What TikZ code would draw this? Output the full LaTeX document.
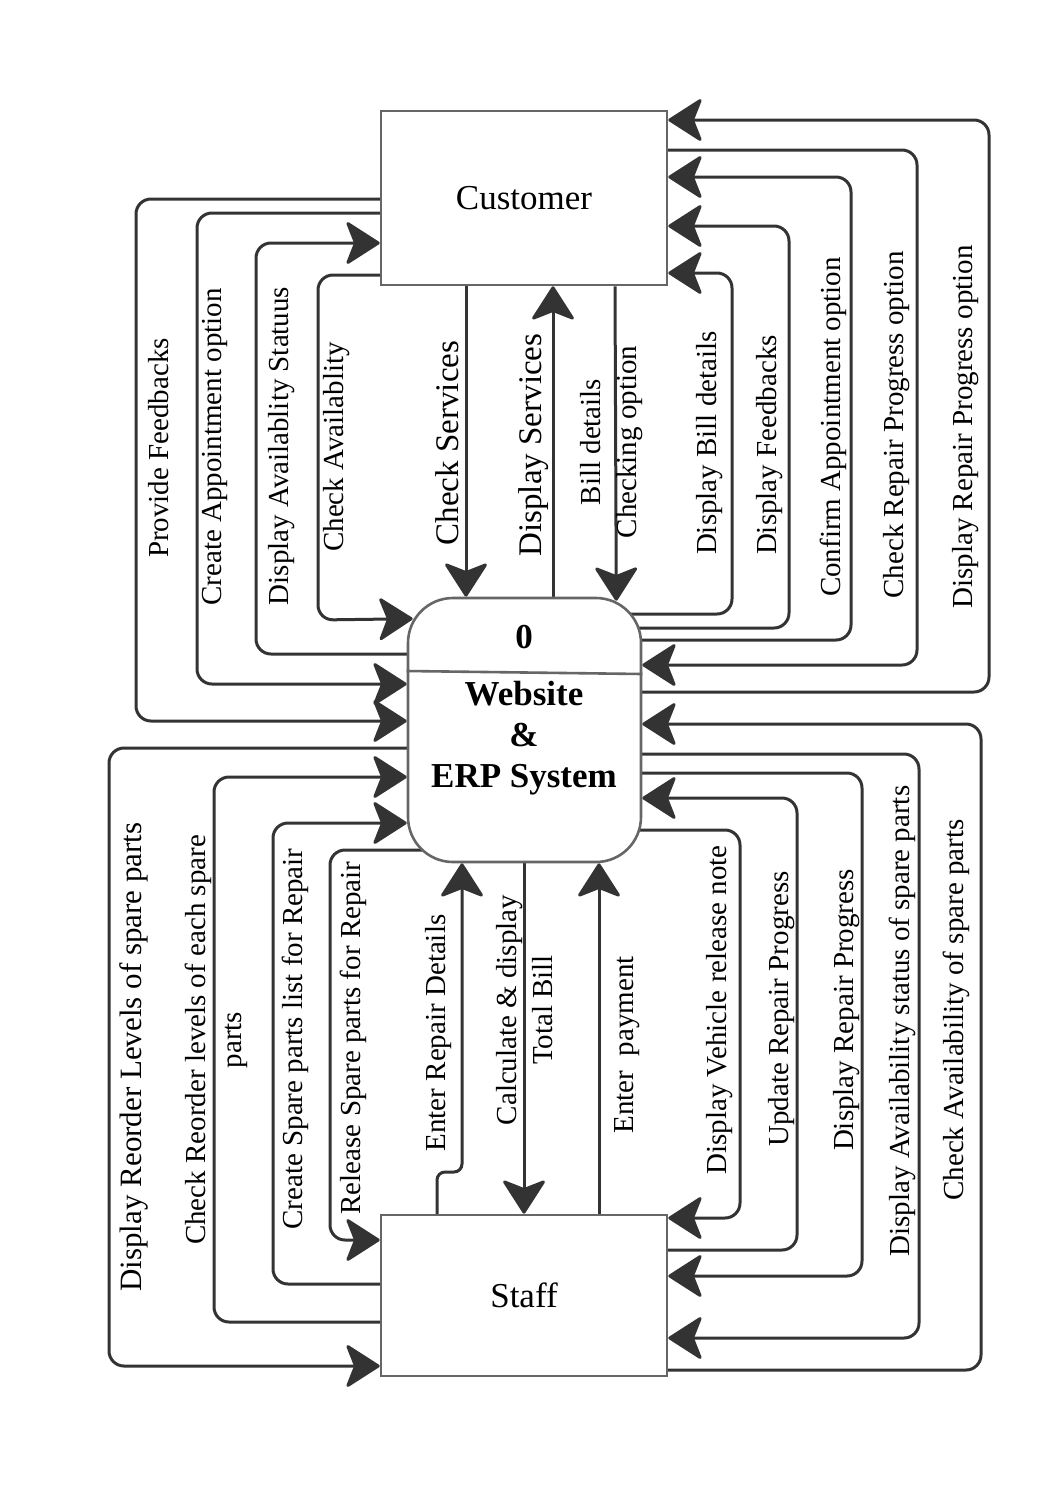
\documentclass[tikz,border=0pt]{standalone}
\usepackage{fontspec}
\setmainfont{Liberation Serif}
\usetikzlibrary{arrows.meta,calc,backgrounds}
\definecolor{boxgray}{HTML}{666666}
\definecolor{linegray}{HTML}{333333}
\begin{document}
\begin{tikzpicture}[x=1pt,y=-1pt,
  box/.style={draw=boxgray,line width=2.6pt,fill=white,inner sep=0pt,
    font=\fontsize{35}{41}\selectfont},
  conn/.style={draw=linegray,line width=3pt,rounded corners=15pt,
    -{Stealth[length=36pt,width=46pt,inset=9pt,round]}},
  lbl/.style={rotate=90,inner sep=0pt,align=center,
    font=\fontsize{29}{36}\selectfont},
  biglbl/.style={rotate=90,inner sep=0pt,align=center,
    font=\fontsize{33}{38}\selectfont},
  ptext/.style={inner sep=0pt,align=center,
    font=\bfseries\fontsize{35}{41}\selectfont}
]
\useasboundingbox (0,0) rectangle (1051,1486);

% entities
\node[box,minimum width=286pt,minimum height=174pt] (cust) at (524,198) {Customer};
\node[box,minimum width=286pt,minimum height=161pt] (staff) at (524,1295.5) {Staff};
\node[box,rounded corners=45pt,minimum width=233pt,minimum height=264pt] (proc) at (524.5,730) {};
\draw[draw=boxgray,line width=2.6pt] (proc.west |- 0,671) -- (proc.east |- 0,674);
\node[ptext] (pnum) at (524,637) {0};
\node[ptext] (pname) at (524,738) {Website\\\&\\ERP System};

\begin{scope}[on background layer]
\fill[white] (0,0) rectangle (1051,1486);
% top left
\draw[conn] (cust.center |- 0,199) -- (136,199) -- (136,721) -- (proc.west |- 0,721);
\draw[conn] (cust.center |- 0,213) -- (197,213) -- (197,684) -- (proc.west |- 0,684);
\draw[conn] (proc.center |- 0,654) -- (256,654) -- (256,243) -- (cust.west |- 0,243);
\draw[conn] (cust.center |- 0,275) -- (318,275) -- (318,620) -- ($(proc.north west)+(6,22)$);
% middle top
\draw[conn] (cust.south -| 466,0) -- (proc.north -| 466,0);
\draw[conn] (proc.center -| 553,0) -- (cust.south -| 553,0);
\draw[conn] (cust.south -| 615,0) -- ($(proc.north east)+(-26,4)$);
% top right
\draw[conn] (proc.center |- 0,614) -- (732,614) -- (732,273) -- (cust.east |- 0,273);
\draw[conn] (proc.center |- 0,628) -- (789,628) -- (789,226) -- (cust.east |- 0,226);
\draw[conn] (proc.center |- 0,640) -- (851,640) -- (851,177) -- (cust.east |- 0,177);
\draw[conn] (cust.center |- 0,150) -- (917,150) -- (917,665) -- (proc.east |- 0,665);
\draw[conn] (proc.center |- 0,692) -- (989,692) -- (989,120) -- (cust.east |- 0,120);
% bottom left
\draw[conn] (proc.center |- 0,748) -- (109,748) -- (109,1366) -- (staff.west |- 0,1366);
\draw[conn] (staff.center |- 0,1322) -- (214,1322) -- (214,777) -- (proc.west |- 0,777);
\draw[conn] (staff.center |- 0,1284) -- (273,1284) -- (273,823) -- (proc.west |- 0,823);
\draw[conn] (proc.center |- 0,850) -- (330,850) -- (330,1240) -- (staff.west |- 0,1240);
% middle bottom
\draw[conn,rounded corners=8pt] (staff.center -| 437,0) -- (437,1172) -- (462,1172) -- (proc.south -| 462,0);
\draw[conn] (proc.center -| 524,0) -- (staff.north -| 524,0);
\draw[conn] (staff.center -| 599,0) -- (proc.south -| 599,0);
% bottom right
\draw[conn] (proc.center |- 0,830) -- (740,830) -- (740,1218) -- (staff.east |- 0,1218);
\draw[conn] (staff.center |- 0,1250) -- (797,1250) -- (797,798) -- (proc.east |- 0,798);
\draw[conn] (proc.center |- 0,773) -- (862,773) -- (862,1276) -- (staff.east |- 0,1276);
\draw[conn] (proc.center |- 0,754) -- (919,754) -- (919,1338) -- (staff.east |- 0,1338);
\draw[conn] (staff.center |- 0,1370) -- (981,1370) -- (981,724) -- (proc.east |- 0,724);
\end{scope}

% labels top
\node[lbl] (l1) at (159,448) {Provide Feedbacks};
\node[lbl] (l2) at (215,447) {Create Appointment option};
\node[lbl] (l3) at (282,446) {Display Availablity Statuus};
\node[lbl] (l4) at (337,447) {Check Availablity};
\node[biglbl] (l5) at (447,443) {Check Services};
\node[biglbl] (l6) at (534,445) {Display Services};
\node[lbl] (l7) at (612,442) {Bill details\\Checking option};
\node[lbl] (l8) at (710,443) {Display Bill details};
\node[lbl] (l9) at (770,445) {Display Feedbacks};
\node[lbl] (l10) at (833,427) {Confirm Appointment option};
\node[lbl] (l11) at (897,425) {Check Repair Progress option};
\node[lbl] (l12) at (966,427) {Display Repair Progress option};
% labels bottom
\node[lbl,font=\fontsize{31}{36}\selectfont] (m1) at (134,1057) {Display Reorder Levels of spare parts};
\node[lbl] (m2) at (216,1040) {Check Reorder levels of each spare\\parts};
\node[lbl] (m3) at (295,1039) {Create Spare parts list for Repair};
\node[lbl] (m4) at (353,1038) {Release Spare parts for Repair};
\node[lbl] (m5) at (439,1033) {Enter Repair Details};
\node[lbl] (m6) at (525,1010) {Calculate \& display\\Total Bill};
\node[lbl] (m7) at (627,1045) {Enter\ \ payment};
\node[lbl] (m8) at (720,1010) {Display Vehicle release note};
\node[lbl] (m9) at (782,1009) {Update Repair Progress};
\node[lbl] (m10) at (847,1010) {Display Repair Progress};
\node[lbl] (m11) at (902,1021) {Display Availability status of spare parts};
\node[lbl] (m12) at (956,1010) {Check Availability of spare parts};
\end{tikzpicture}
\end{document}
